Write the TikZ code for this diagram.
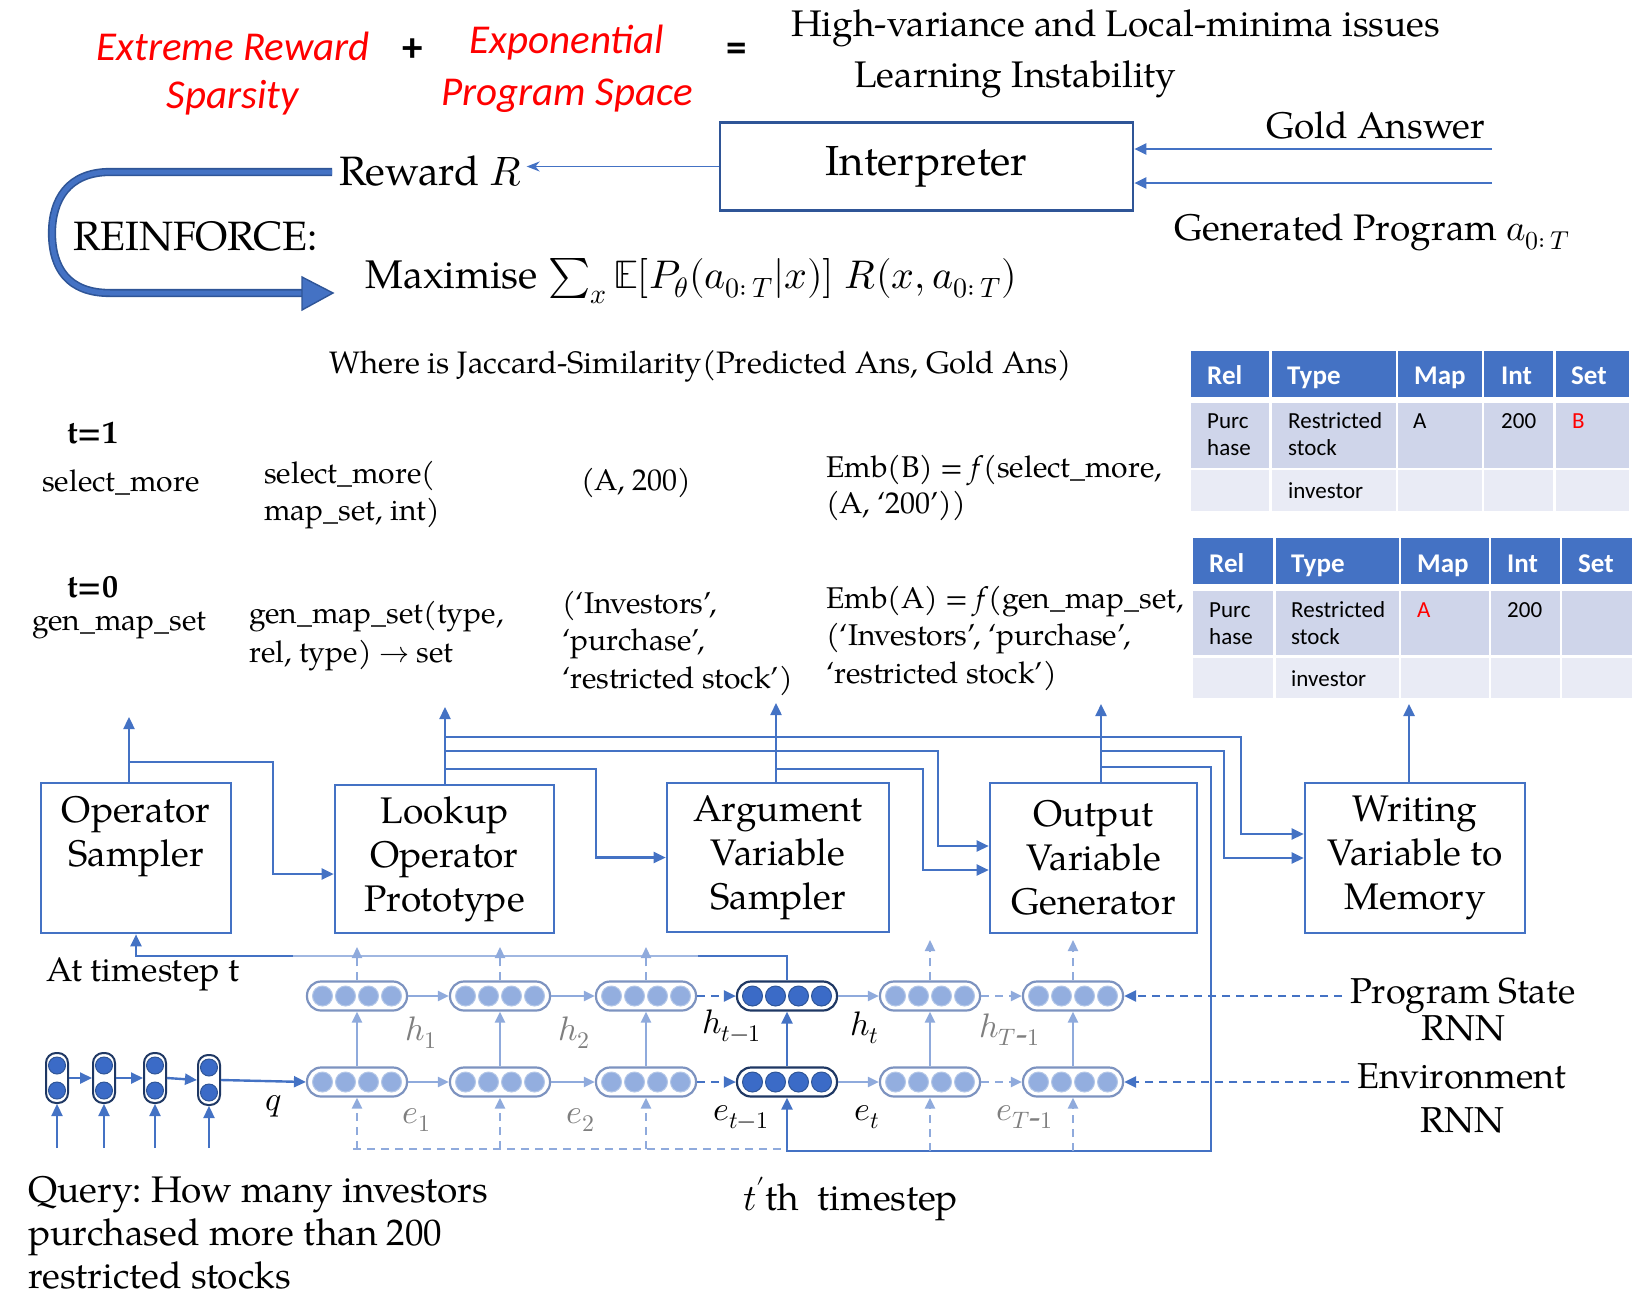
\documentclass[tikz,border=0pt]{standalone}
\usepackage{fontspec}
\usepackage{unicode-math}
\setmainfont{TeX Gyre Pagella}
\newfontfamily\calib{Carlito}
\usetikzlibrary{arrows.meta,calc}
\frenchspacing
\definecolor{blueC}{HTML}{4472C4}
\definecolor{darkB}{HTML}{2F5597}
\definecolor{navy}{HTML}{1F3864}
\definecolor{lightC}{HTML}{8FAADC}
\definecolor{dotL}{HTML}{93AEDF}
\definecolor{dotLb}{HTML}{B4C7E7}
\definecolor{cellLine}{HTML}{7D93C0}
\definecolor{dotD}{HTML}{3B6BC7}
\definecolor{grayT}{HTML}{7F7F7F}
\definecolor{thead}{HTML}{4472C4}
\definecolor{trowA}{HTML}{CFD5EA}
\definecolor{trowB}{HTML}{E9EBF5}
\definecolor{redT}{HTML}{FF0000}
\newcommand\fz[2]{\fontsize{#1}{#2}\selectfont}
\newcommand\rcell[4]{%
  \node[cell#4] (#1) at (#2,#3) {};
  \foreach \dx in {-34.5,-11.5,11.5,34.5}{\draw[dots#4] ($(#1.center)+(\dx,0)$) circle[radius=10pt];}
}
\newcommand\qcell[3]{%
  \node[qcap] (#1) at (#2,#3) {};
  \foreach \dy in {-12.5,12.5}{\draw[dotsD] ($(#1.center)+(0,\dy)$) circle[radius=8.5pt];}
}
\begin{document}
\begin{tikzpicture}[x=1pt,y=-1pt,
  tx/.style={inner sep=0pt, align=left},
  box/.style={draw=blueC, line width=2.6pt, inner sep=0pt, align=center, font=\fz{37}{44}},
  arr/.style={draw=blueC, line width=2.4pt, -{Triangle[length=12pt,width=11pt]}},
  larr/.style={draw=lightC, line width=2.2pt, -{Triangle[length=11pt,width=10pt]}},
  ldash/.style={larr, dash pattern=on 8pt off 6pt},
  ldline/.style={draw=lightC, line width=2.2pt, dash pattern=on 8pt off 6pt},
  darr/.style={arr, line width=2.2pt, dash pattern=on 8pt off 6pt},
  cellL/.style={draw=cellLine, line width=2.2pt, rounded corners=14pt, minimum width=100pt, minimum height=29pt, inner sep=0pt, fill=white},
  cellD/.style={cellL, draw=navy},
  dotsL/.style={fill=dotL, draw=dotLb, line width=1pt},
  dotsD/.style={fill=dotD, draw=darkB, line width=1pt},
  qcap/.style={draw=navy, line width=2pt, rounded corners=10pt, minimum width=22pt, minimum height=50pt, inner sep=0pt, fill=white},
  hlab/.style={inner sep=0pt, anchor=base west, font=\fz{34}{40}},
  rowt/.style={tx, anchor=base west, font=\fz{30}{37}},
  th/.style={tx, anchor=base west, text=white, font=\calib\bfseries\fz{27}{30}},
  tc/.style={tx, anchor=base west, font=\calib\fz{23}{27}},
]
\useasboundingbox (0,0) rectangle (1646,1306);

% ---------- top (multi-line nodes: base = last line) ----------
\node[tx, anchor=base, align=center, text=redT, font=\calib\itshape\fz{41}{48}] (ers) at (233,108) {Extreme Reward\\Sparsity};
\node[tx, font=\calib\bfseries\fz{41}{48}] (plus) at (413,50) {+};
\node[tx, anchor=base, align=center, text=redT, font=\calib\itshape\fz{41}{52}] (eps) at (567,105) {Exponential\\Program Space};
\node[tx, font=\calib\bfseries\fz{41}{48}] (eq) at (737,52) {=};
\node[tx, anchor=base west, font=\fz{37}{44}] (hv) at (791,37) {High-variance and Local-minima issues};
\node[tx, anchor=base west, font=\fz{37}{44}] (li) at (854,87) {Learning Instability};

\node[box, draw=darkB, minimum width=413pt, minimum height=88pt, font=\fz{42}{50}] (interp) at (926.5,166.5) {Interpreter};
\node[tx, anchor=base east, font=\fz{37}{44}] (gold) at (1485,138) {Gold Answer};
\node[tx, anchor=base west, font=\fz{37}{44}] (gen) at (1174,240) {Generated Program $a_{0:\,T}$};
\coordinate (gaEnd) at (1492,149);
\coordinate (gpEnd) at (1492,183);
\draw[arr] (gaEnd) -- (gaEnd -| interp.east);
\draw[arr] (gpEnd) -- (gpEnd -| interp.east);

\node[tx, anchor=base west, font=\fz{41}{48}] (reward) at (339,185) {Reward $R$};
\draw[draw=blueC, line width=1.8pt, -{Stealth[length=13pt,width=10pt]}] (interp.west) -- ($(interp.west -| reward.east)+(5,0)$);
\node[tx, anchor=base west, font=\fz{41}{48}] (reinf) at (73,250) {REINFORCE:};
\node[tx, anchor=base west, font=\fz{40}{48}] (maxi) at (365,288) {Maximise $\sum_x \mathbb{E}[P_\theta(a_{0:\,T}|x)]\; R(x,a_{0:\,T})$};

\coordinate (lpS) at (332,172);
\coordinate (lpT) at (333,293);
\draw[draw=darkB, double=blueC, double distance=5pt, line width=1.6pt] (lpS) -- (110,172) .. controls (68,172) and (52,200) .. (52,233) .. controls (52,268) and (68,293) .. (110,293) -- (304,293);
\filldraw[fill=blueC, draw=darkB, line width=1.4pt] (302,277) -- (lpT) -- (302,310) -- cycle;

\node[tx, anchor=base west, font=\fz{31}{37}] (jac) at (329,373) {Where is Jaccard-Similarity(Predicted Ans, Gold Ans)};

% ---------- rows ----------
\node[tx, anchor=base west, font=\bfseries\fz{32}{37}] (t1) at (67,443) {t=1};
\node[rowt] (op1) at (42,491) {select\_more};
\node[rowt] (pr1) at (264,520) {select\_more(\\map\_set, int)};
\node[rowt] (ar1) at (581,490) {(A, 200)};
\node[rowt, font=\fz{30}{36}] (em1) at (826,513) {Emb(B) = \textit{f}(select\_more,\\(A, ‘200’))};
\node[tx, anchor=base west, font=\bfseries\fz{32}{37}] (t0) at (67,597) {t=0};
\node[rowt] (op0) at (32,630) {gen\_map\_set};
\node[rowt, font=\fz{30}{39}] (pr0) at (249,662) {gen\_map\_set(type,\\rel, type) $\rightarrow$ set};
\node[rowt, font=\fz{30}{37.5}] (ar0) at (562,688) {(‘Investors’,\\‘purchase’,\\‘restricted stock’)};
\node[rowt, font=\fz{30}{37.5}] (em0) at (826,683) {Emb(A) = \textit{f}(gen\_map\_set,\\(‘Investors’, ‘purchase’,\\‘restricted stock’)};

% ---------- tables ----------
\foreach \xa/\xb in {1191/1269,1272/1396,1398/1482,1484/1553,1556/1629}{
  \fill[thead] (\xa,351) rectangle (\xb,397);
  \fill[trowA] (\xa,403) rectangle (\xb,468);
  \fill[trowB] (\xa,470) rectangle (\xb,511);
}
\foreach \xa/\xb in {1193/1273,1276/1399,1401/1489,1491/1560,1562/1632}{
  \fill[thead] (\xa,538) rectangle (\xb,584);
  \fill[trowA] (\xa,591) rectangle (\xb,655);
  \fill[trowB] (\xa,658) rectangle (\xb,698);
}
\node[th] (t1ha) at (1207,384) {Rel};
\node[th] (t1hb) at (1287,384) {Type};
\node[th] (t1hc) at (1414,384) {Map};
\node[th] (t1hd) at (1501,384) {Int};
\node[th] (t1he) at (1571,384) {Set};
\node[tc] (t1ra) at (1207,455) {Purc\\hase};
\node[tc] (t1rb) at (1288,455) {Restricted\\stock};
\node[tc] (t1rc) at (1413,428) {A};
\node[tc] (t1rd) at (1501,428) {200};
\node[tc, text=redT] (t1re) at (1572,428) {B};
\node[tc] (t1sb) at (1288,498) {investor};
\node[th] (t2ha) at (1209,572) {Rel};
\node[th] (t2hb) at (1291,572) {Type};
\node[th] (t2hc) at (1417,572) {Map};
\node[th] (t2hd) at (1507,572) {Int};
\node[th] (t2he) at (1578,572) {Set};
\node[tc] (t2ra) at (1209,644) {Purc\\hase};
\node[tc] (t2rb) at (1291,644) {Restricted\\stock};
\node[tc, text=redT] (t2rc) at (1417,617) {A};
\node[tc] (t2rd) at (1507,617) {200};
\node[tc] (t2sb) at (1291,686) {investor};

% ---------- boxes ----------
\node[box, minimum width=190pt, minimum height=150pt] (opsamp) at (136,858) {Operator\\Sampler\\\rule[-10pt]{0pt}{10pt}};
\node[box, minimum width=219pt, minimum height=148pt] (lookup) at (444.5,859) {Lookup\\Operator\\Prototype};
\node[box, minimum width=222pt, minimum height=149pt] (argv) at (778,857.5) {Argument\\Variable\\Sampler};
\node[box, minimum width=207pt, minimum height=150pt] (outv) at (1093.5,858) {Output\\Variable\\Generator};
\node[box, minimum width=220pt, minimum height=150pt] (wmem) at (1415,858) {Writing\\Variable to\\Memory};

% ---------- RNN cells ----------
\rcell{h1}{357}{996}{L}
\rcell{h2}{500}{996}{L}
\rcell{h3}{646}{996}{L}
\rcell{htm1}{787}{996}{D}
\rcell{ht}{930}{996}{L}
\rcell{hT}{1073}{996}{L}
\rcell{e1}{357}{1082}{L}
\rcell{e2}{500}{1082}{L}
\rcell{e3}{646}{1082}{L}
\rcell{etm1}{787}{1082}{D}
\rcell{et}{930}{1082}{L}
\rcell{eT}{1073}{1082}{L}

\qcell{q1}{57}{1078}
\qcell{q2}{104}{1078}
\qcell{q3}{155}{1078}
\qcell{q4}{209}{1080}

% ---------- connectors above boxes ----------
\coordinate (opOut) at (129,717);
\draw[arr] (opsamp.north -| opOut) -- (opOut);
\coordinate (opJ) at (129,762); \coordinate (opB) at (273,762);
\draw[arr] (opJ) -- (opB) |- ($(lookup.west)+(0,15)$);

\coordinate (lkOut) at (445,707);
\draw[arr] (lookup.north -| lkOut) -- (lkOut);
\coordinate (lkJ1) at (445,737); \coordinate (lkB1) at (1241,737);
\coordinate (lkJ2) at (445,751); \coordinate (lkB2) at (938,751);
\coordinate (lkJ3) at (445,769); \coordinate (lkB3) at (596,769);
\draw[arr] (lkJ1) -- (lkB1) |- ($(wmem.west)+(0,-24)$);
\draw[arr] (lkJ2) -- (lkB2) |- ($(outv.west)+(0,-12)$);
\draw[arr] (lkJ3) -- (lkB3) |- (argv.west);

\coordinate (agOut) at (776,703);
\draw[arr] (argv.north -| agOut) -- (agOut);
\coordinate (agJ) at (776,769); \coordinate (agB) at (923,769);
\draw[arr] (agJ) -- (agB) |- ($(outv.west)+(0,12)$);

\coordinate (ovOut) at (1101,704);
\draw[arr] (outv.north -| ovOut) -- (ovOut);
\coordinate (ovJ1) at (1101,751); \coordinate (ovB1) at (1224,751);
\draw[arr] (ovJ1) -- (ovB1) |- (wmem.west);
\coordinate (ovJ2) at (1101,767); \coordinate (ovB2) at (1211,767); \coordinate (ovB3) at (1211,1151);
\draw[arr] (ovJ2) -- (ovB2) -- (ovB3) -| (etm1.south);

\coordinate (wmOut) at (1409,704);
\draw[arr] (wmem.north -| wmOut) -- (wmOut);

% ---------- RNN connectors ----------
\coordinate (hl) at (0,956);
\draw[arr] (htm1.north) -- (htm1.north |- hl) -| (opsamp.south);
\draw[draw=lightC!85, line width=2.4pt] (293,956) -- (698,956);

\draw[larr] (h1.east) -- (h2.west);
\draw[larr] (h2.east) -- (h3.west);
\draw[darr] (h3.east) -- (htm1.west);
\draw[larr] (htm1.east) -- (ht.west);
\draw[ldash] (ht.east) -- (hT.west);
\draw[larr] (e1.east) -- (e2.west);
\draw[larr] (e2.east) -- (e3.west);
\draw[darr] (e3.east) -- (etm1.west);
\draw[larr] (etm1.east) -- (et.west);
\draw[ldash] (et.east) -- (eT.west);

\draw[larr] (e1.north) -- (h1.south);
\draw[larr] (e2.north) -- (h2.south);
\draw[larr] (e3.north) -- (h3.south);
\draw[arr, line width=2.2pt] (etm1.north) -- (htm1.south);
\draw[larr] (et.north) -- (ht.south);
\draw[larr] (eT.north) -- (hT.south);

\coordinate (hupL) at (0,947); \coordinate (hupR) at (0,940);
\draw[ldash] (h1.north) -- (h1.north |- hupL);
\draw[ldash] (h2.north) -- (h2.north |- hupL);
\draw[ldash] (h3.north) -- (h3.north |- hupL);
\draw[ldash] (ht.north) -- (ht.north |- hupR);
\draw[ldash] (hT.north) -- (hT.north |- hupR);

\coordinate (bl) at (353,1149);
\draw[ldline] (bl) -- (bl -| etm1.south);
\draw[ldash] (e1.south |- bl) -- (e1.south);
\draw[ldash] (e2.south |- bl) -- (e2.south);
\draw[ldash] (e3.south |- bl) -- (e3.south);
\draw[ldash] (et.south |- ovB3) -- (et.south);
\draw[ldash] (eT.south |- ovB3) -- (eT.south);

\draw[arr] (q1.east) -- (q2.west);
\draw[arr] (q2.east) -- (q3.west);
\draw[arr] (q3.east) -- (q4.west);
\draw[arr] (q4.east) -- (e1.west);
\coordinate (qb) at (0,1148);
\draw[arr] (q1.south |- qb) -- (q1.south);
\draw[arr] (q2.south |- qb) -- (q2.south);
\draw[arr] (q3.south |- qb) -- (q3.south);
\draw[arr] (q4.south |- qb) -- (q4.south);

% ---------- labels ----------
\node[tx, anchor=base, font=\fz{34}{40}] (qlab) at (274,1110) {$q$};
\node[hlab, text=grayT] (lh1) at (405,1040) {$h_1$};
\node[hlab, text=grayT] (lh2) at (558,1040) {$h_2$};
\node[hlab] (lhtm1) at (702,1033) {$h_{t-1}$};
\node[hlab] (lht) at (850,1035) {$h_t$};
\node[hlab, text=grayT] (lhT) at (979,1037) {$h_{T\mbox{-}1}$};
\node[hlab, text=grayT] (le1) at (402,1123) {$e_1$};
\node[hlab, text=grayT] (le2) at (566,1123) {$e_2$};
\node[hlab] (letm1) at (713,1120) {$e_{t-1}$};
\node[hlab] (let) at (854,1120) {$e_t$};
\node[hlab, text=grayT] (leT) at (996,1120) {$e_{T\mbox{-}1}$};

\node[tx, anchor=base, align=center, font=\fz{36}{37}] (psr) at (1463,1040) {Program State\\RNN};
\node[tx, anchor=base, align=center, font=\fz{36}{44}] (envr) at (1462,1132) {Environment\\RNN};
\draw[darr] ($(hT.east -| psr.west)+(-8,0)$) -- (hT.east);
\draw[darr] ($(eT.east -| envr.west)+(-8,0)$) -- (eT.east);

\node[tx, anchor=base west, font=\fz{34}{40}] (ats) at (46,981) {At timestep t};
\node[tx, anchor=base west, font=\fz{37}{43}] (query) at (28,1288) {Query: How many investors\\purchased more than 200\\restricted stocks};
\node[tx, anchor=base west, font=\fz{37}{43}] (tth) at (743,1210) {$t'$th\ \ timestep};
\end{tikzpicture}
\end{document}
